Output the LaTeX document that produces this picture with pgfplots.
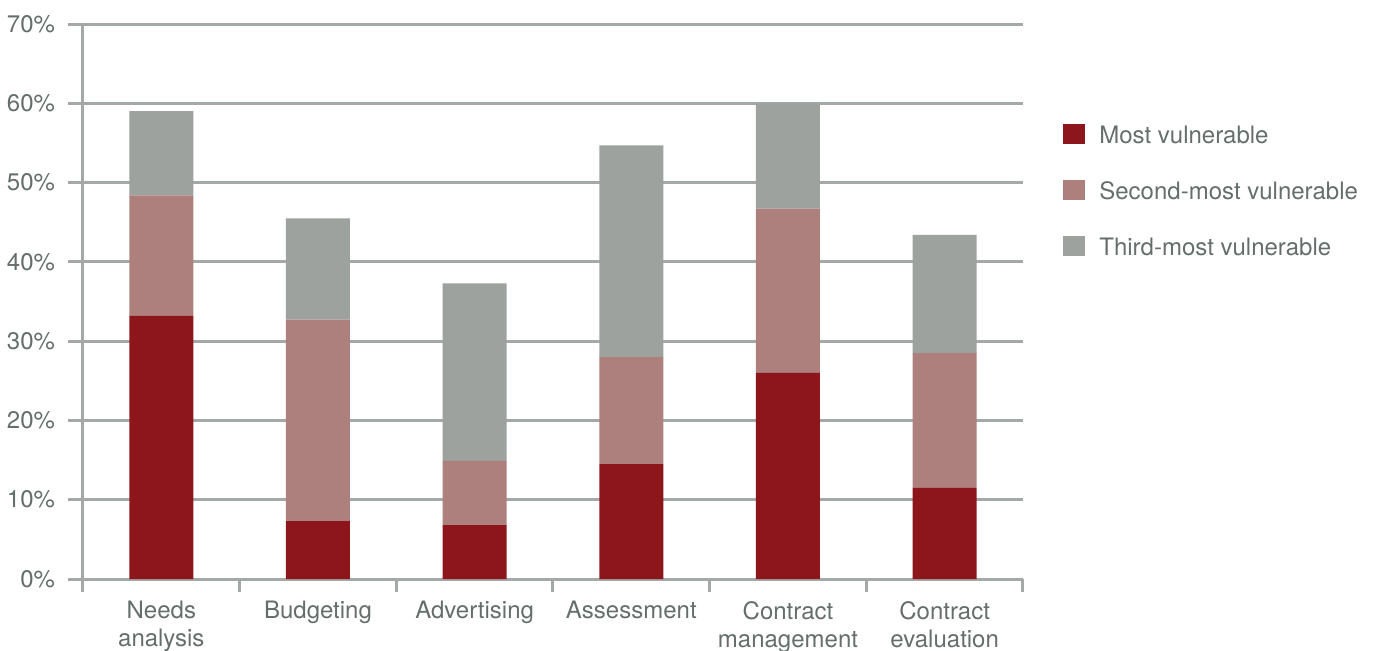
\documentclass[border=0pt]{standalone}
\usepackage{pgfplots}
\pgfplotsset{compat=1.18}
\usepackage{fontspec}
\setmainfont{TeX Gyre Heros}
\definecolor{redc}{RGB}{140,22,27}
\definecolor{pinkc}{RGB}{173,128,126}
\definecolor{grayc}{RGB}{157,162,159}
\definecolor{gridc}{RGB}{164,168,166}
\definecolor{textc}{RGB}{100,110,106}
\begin{document}
\begin{tikzpicture}
\useasboundingbox (-41.5pt,-35.5pt) rectangle (645pt,289.5pt);
\begin{axis}[at={(0pt,0pt)}, anchor=south west, scale only axis,
  width=470pt, height=277.5pt,
  ybar stacked, bar width=32pt,
  xmin=-0.5, xmax=5.5, ymin=0, ymax=70,
  axis x line*=bottom, axis y line*=left,
  axis line style={draw=gridc, line width=1.5pt},
  ytick={0,10,...,70},
  yticklabels={0\%,10\%,20\%,30\%,40\%,50\%,60\%,70\%},
  ymajorgrids, grid style={draw=gridc, line width=1.5pt},
  tick align=outside, major tick length=7.5pt,
  ytick style={draw=gridc, line width=1.5pt},
  xtick={0,1,2,3,4,5},
  xticklabels={Needs\\analysis, Budgeting, Advertising, Assessment, Contract\\management, Contract\\evaluation},
  xtick style={draw=none},
  extra x ticks={-0.5,0.5,1.5,2.5,3.5,4.5,5.5},
  extra x tick labels={},
  extra x tick style={major tick length=6.5pt, xtick style={draw=gridc, line width=1.5pt}, grid=none},
  tick label style={font=\fontsize{12}{14}\selectfont, text=textc},
  yticklabel style={xshift=-3pt},
  xticklabel style={align=center},
  legend style={at={(rel axis cs:1.04255,0.820)}, anchor=north west, draw=none, fill=none,
    inner sep=0pt, row sep=18pt, column sep=7pt,
    nodes={inner sep=0pt, text height=9.5pt, text depth=0.5pt, font=\fontsize{12}{14}\selectfont, text=textc}},
  legend cell align=left,
  legend image code/.code={\fill[#1] (0pt,-5pt) rectangle (11pt,5pt);},
]
\addplot[fill=redc, draw=none] coordinates {(0,33.2) (1,7.3) (2,6.8) (3,14.5) (4,26.0) (5,11.5)};
\addplot[fill=pinkc, draw=none] coordinates {(0,15.2) (1,25.4) (2,8.1) (3,13.5) (4,20.7) (5,17.0)};
\addplot[fill=grayc, draw=none] coordinates {(0,10.6) (1,12.8) (2,22.4) (3,26.7) (4,13.3) (5,14.9)};
\legend{Most vulnerable, Second-most vulnerable, Third-most vulnerable}
\end{axis}
\end{tikzpicture}
\end{document}
